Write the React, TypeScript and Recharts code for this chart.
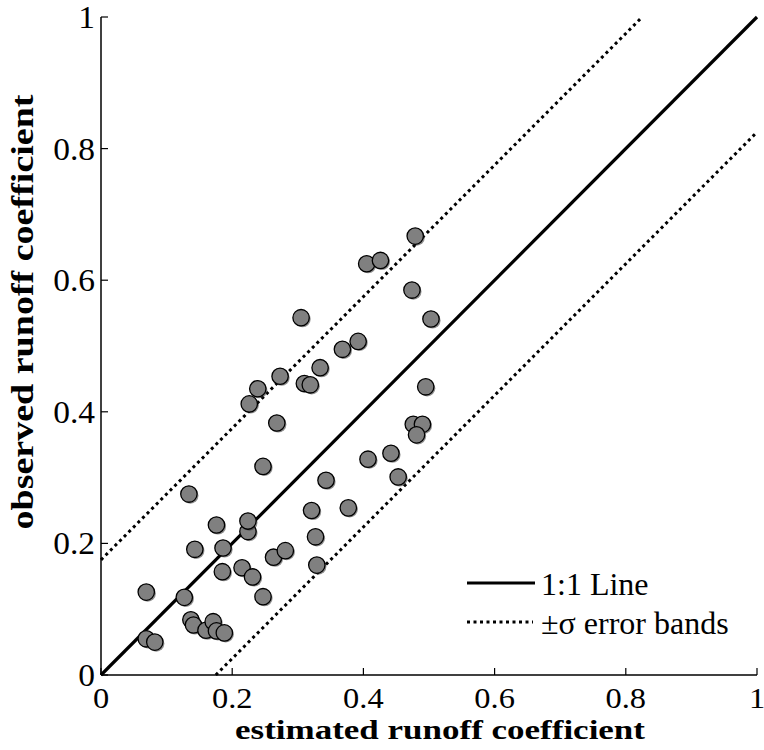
import React from 'react';
import { ScatterChart, Scatter, XAxis, YAxis, Legend } from 'recharts';

const estimated = [
  0.069, 0.069, 0.082, 0.127, 0.134, 0.137, 0.141, 0.143, 0.160, 0.171,
  0.176, 0.188, 0.176, 0.186, 0.185, 0.215, 0.231, 0.247, 0.224, 0.224,
  0.247, 0.263, 0.281, 0.343, 0.321, 0.327, 0.329, 0.305, 0.226, 0.239,
  0.273, 0.310, 0.319, 0.334, 0.268, 0.479, 0.405, 0.426, 0.474, 0.503,
  0.368, 0.392, 0.495, 0.476, 0.490, 0.481, 0.407, 0.442, 0.453, 0.377,
];
const observed = [
  0.126, 0.055, 0.050, 0.118, 0.275, 0.084, 0.076, 0.191, 0.068, 0.081,
  0.067, 0.064, 0.228, 0.193, 0.157, 0.163, 0.149, 0.119, 0.218, 0.234,
  0.317, 0.179, 0.189, 0.296, 0.250, 0.210, 0.167, 0.543, 0.412, 0.435,
  0.454, 0.443, 0.441, 0.467, 0.383, 0.667, 0.625, 0.630, 0.585, 0.541,
  0.495, 0.507, 0.438, 0.381, 0.381, 0.365, 0.328, 0.337, 0.301, 0.254,
];
const tickValues = [0, 0.2, 0.4, 0.6, 0.8, 1];
const tickLabels = ['0', '0.2', '0.4', '0.6', '0.8', '1'];

const oneToOneLine = [{ x: 0, y: 0 }, { x: 1, y: 1 }];
const upperBand = [{ x: 0, y: 0.175 }, { x: 0.825, y: 1 }];
const lowerBand = [{ x: 0.175, y: 0 }, { x: 1, y: 0.825 }];

const points = estimated.map((x, i) => ({ x, y: observed[i] }));

const FONT = '"Liberation Serif", "Times New Roman", serif';

const labelFor = (v: number) => {
  const i = tickValues.indexOf(v);
  return i >= 0 ? tickLabels[i] : String(v);
};

const BottomTick = (props: any) => {
  const { x, y, payload } = props;
  return (
    <g transform={`translate(${x},${y + 33}) scale(1.12,1)`}>
      <text x={0} y={0} textAnchor="middle" fontFamily={FONT} fontSize={29} fill="#000">
        {labelFor(payload.value)}
      </text>
    </g>
  );
};

const LeftTick = (props: any) => {
  const { x, y, payload } = props;
  return (
    <g transform={`translate(${x - 6},${y + 11}) scale(1.08,1)`}>
      <text x={0} y={0} textAnchor="end" fontFamily={FONT} fontSize={31} fill="#000">
        {labelFor(payload.value)}
      </text>
    </g>
  );
};

const Dot = (props: any) => {
  const { cx, cy } = props;
  if (cx == null || cy == null) return <g />;
  return (
    <g>
      <circle cx={cx + 1.4} cy={cy + 1.4} r={8.2} fill="#333" opacity={0.55} />
      <circle cx={cx} cy={cy} r={8.2} fill="#808080" stroke="#000" strokeWidth={1.3} />
    </g>
  );
};

const NoShape = () => <g />;

const LegendBox = () => (
  <svg width={300} height={90} style={{ overflow: 'visible', display: 'block' }}>
    <line x1={7} y1={23} x2={75} y2={23} stroke="#000" strokeWidth={3} />
    <text x={81} y={35} fontFamily={FONT} fontSize={32} fill="#000">1:1 Line</text>
    <line x1={7} y1={62} x2={73} y2={62} stroke="#000" strokeWidth={3} strokeDasharray="3 3.5" />
    <text x={81} y={74} fontFamily={FONT} fontSize={32} fill="#000">±σ error bands</text>
  </svg>
);

export default function App() {
  return (
    <div style={{ position: 'absolute', left: 0, top: 0, width: 764, height: 750, background: '#fff' }}>
      <ScatterChart width={764} height={750} margin={{ top: 17, right: 7, left: 0, bottom: 0 }}>
        <XAxis
          xAxisId={0}
          type="number"
          dataKey="x"
          domain={[0, 1]}
          ticks={tickValues}
          orientation="bottom"
          height={75}
          axisLine={{ stroke: '#000', strokeWidth: 1.5 }}
          tickLine={{ stroke: '#000', strokeWidth: 1.2 }}
          tickSize={-7}
          tickMargin={7}
          tick={<BottomTick />}
          interval={0}
          label={{
            content: () => (
              <text
                x={440}
                y={739}
                textAnchor="middle"
                fontFamily={FONT}
                fontWeight="bold"
                fontSize={27}
                textLength={410}
                lengthAdjust="spacingAndGlyphs"
                fill="#000"
              >
                estimated runoff coefficient
              </text>
            ),
          }}
        />
        <XAxis
          xAxisId="top"
          type="number"
          dataKey="x"
          domain={[0, 1]}
          ticks={tickValues}
          orientation="top"
          height={0}
          axisLine={{ stroke: '#000', strokeWidth: 1.5 }}
          tickLine={{ stroke: '#000', strokeWidth: 1.2 }}
          tickSize={-7}
          tick={false}
          interval={0}
        />
        <YAxis
          yAxisId={0}
          type="number"
          dataKey="y"
          domain={[0, 1]}
          ticks={tickValues}
          orientation="left"
          width={101}
          axisLine={{ stroke: '#000', strokeWidth: 1.5 }}
          tickLine={{ stroke: '#000', strokeWidth: 1.2 }}
          tickSize={-7}
          tickMargin={7}
          tick={<LeftTick />}
          interval={0}
          label={{
            content: () => (
              <text
                x={33}
                y={312}
                transform="rotate(-90, 33, 312)"
                textAnchor="middle"
                fontFamily={FONT}
                fontWeight="bold"
                fontSize={32}
                textLength={435}
                lengthAdjust="spacingAndGlyphs"
                fill="#000"
              >
                observed runoff coefficient
              </text>
            ),
          }}
        />
        <YAxis
          yAxisId="right"
          type="number"
          dataKey="y"
          domain={[0, 1]}
          ticks={tickValues}
          orientation="right"
          width={0}
          axisLine={{ stroke: '#000', strokeWidth: 1.5 }}
          tickLine={{ stroke: '#000', strokeWidth: 1.2 }}
          tickSize={-7}
          tick={false}
          interval={0}
        />
        <Scatter
          data={upperBand}
          line={{ stroke: '#000', strokeWidth: 3, strokeDasharray: '3 3.5' }}
          shape={NoShape}
          isAnimationActive={false}
          legendType="none"
        />
        <Scatter
          data={lowerBand}
          line={{ stroke: '#000', strokeWidth: 3, strokeDasharray: '3 3.5' }}
          shape={NoShape}
          isAnimationActive={false}
          legendType="none"
        />
        <Scatter
          data={oneToOneLine}
          line={{ stroke: '#000', strokeWidth: 3.2 }}
          shape={NoShape}
          isAnimationActive={false}
          legendType="none"
        />
        <Scatter data={points} shape={<Dot />} isAnimationActive={false} legendType="none" />
        <Legend
          layout="horizontal"
          verticalAlign="middle"
          align="center"
          content={() => <LegendBox />}
          wrapperStyle={{ left: 460, top: 560, width: 300, height: 90 }}
        />
      </ScatterChart>
    </div>
  );
}
